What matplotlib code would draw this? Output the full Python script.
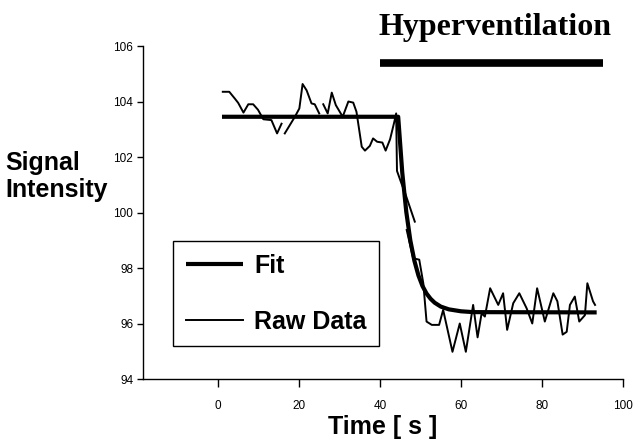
import numpy as np
import matplotlib
matplotlib.use("Agg")
import matplotlib.pyplot as plt

# ---------- data ----------
nan = np.nan
raw_t = [1.2, 2.8, 4.2, 5.0, 6.3, 7.5, 8.7, 9.9, 11.2, 13.2, 14.6, 15.7, nan,
         16.5, 19.0, 20.1, 20.9, 21.9, 23.1, 23.9, 25.0, nan,
         26.0, 27.1, 28.1, 29.1, 30.8, 32.2, 33.4, 34.2, 35.5, 36.3, 37.5, 38.3,
         39.3, 40.6, 41.4, 42.5, 43.5, 44.0, 44.2, 45.3, 46.2, 48.6, nan,
         46.6, 48.2, 49.7, 50.7, 51.5, 52.8, 54.6, 55.6, 57.9, 59.7, 61.2, 63.0,
         64.1, 65.1, 65.9, 67.2, 69.2, 70.4, 71.4, 72.9, 74.4, 76.2, 77.6, 78.8,
         80.7, 82.8, 83.8, 85.1, 86.1, 86.9, 88.1, 89.2, 90.6, 91.2, 92.6, 93.1]
raw_v = [104.35, 104.35, 104.1, 103.95, 103.6, 103.9, 103.9, 103.7, 103.36, 103.33, 102.85, 103.2, nan,
         102.85, 103.45, 103.75, 104.63, 104.4, 103.93, 103.9, 103.57, nan,
         103.9, 103.57, 104.32, 103.87, 103.45, 104.0, 103.96, 103.63, 102.37, 102.23, 102.4, 102.67,
         102.55, 102.52, 102.23, 102.64, 103.24, 103.57, 101.5, 101.05, 100.7, 99.67, nan,
         99.37, 98.35, 98.3, 97.45, 96.07, 95.95, 95.95, 96.49, 94.98, 96.0, 94.98, 96.67,
         95.5, 96.37, 96.25, 97.27, 96.67, 97.09, 95.77, 96.73, 97.09, 96.55, 96.0, 97.27,
         96.07, 97.09, 96.8, 95.6, 95.7, 96.67, 96.97, 96.07, 96.3, 97.45, 96.8, 96.67]

fit_t = [1.0, 44.5, 45.5, 46.5, 47.5, 48.5, 49.5, 50.5, 51.5, 52.5, 53.5, 55.0, 57.0, 60.0, 63.0, 93.5]
fit_v = [103.45, 103.45, 101.45, 100.02, 98.99, 98.26, 97.73, 97.35, 97.08, 96.89, 96.75, 96.61,
         96.51, 96.44, 96.41, 96.4]

hyper_start, hyper_end, hyper_level = 40.0, 95.0, 105.4

xticks = [0, 20, 40, 60, 80, 100]
yticks = [94, 96, 98, 100, 102, 104, 106]

# ---------- plot ----------
plt.rcParams['font.family'] = ['Liberation Sans', 'DejaVu Sans']

fig = plt.figure(figsize=(6.43, 4.48), dpi=100)
ax = fig.add_axes([143/643, 1-379/448, 480/643, 333/448])

ax.plot(fit_t, fit_v, color="black", lw=3.0, label="Fit", solid_capstyle="butt")
ax.plot(raw_t, raw_v, color="black", lw=1.4, label="Raw Data")
ax.plot([hyper_start, hyper_end], [hyper_level, hyper_level], color="black", lw=5.5,
        solid_capstyle="butt", clip_on=False)

ax.set_xlim(-18.5, 100)
ax.set_ylim(94, 106)
ax.set_xticks(xticks)
ax.set_yticks(yticks)
for s in ("top", "right"):
    ax.spines[s].set_visible(False)
for s in ("left", "bottom"):
    ax.spines[s].set_linewidth(1.0)
ax.tick_params(axis="x", direction="out", length=6, width=1, pad=9, labelsize=8.5)
ax.tick_params(axis="y", direction="out", length=4, width=1, pad=3, labelsize=8.5)

ax.set_xlabel("Time [ s ]", fontsize=18, fontweight="bold", labelpad=2)

fig.text(5/643, 1-170/448, "Signal", fontsize=18, fontweight="bold", ha="left", va="baseline")
fig.text(5/643, 1-197/448, "Intensity", fontsize=18, fontweight="bold", ha="left", va="baseline")

fig.text(495/643, 1-35/448, "Hyperventilation", fontsize=23, fontweight="bold",
         family=["Liberation Serif", "DejaVu Serif"], ha="center", va="baseline")

leg = ax.legend(loc="upper left", bbox_to_anchor=((173-143)/480, (379-241)/333),
                borderaxespad=0, frameon=True, fancybox=False, framealpha=1,
                prop={"weight": "bold", "size": 18}, handlelength=2.3,
                handletextpad=0.45, labelspacing=1.28, borderpad=0.5)
leg.get_frame().set_edgecolor("black")
leg.get_frame().set_linewidth(1.0)

fig.savefig("out.png", dpi=100)
